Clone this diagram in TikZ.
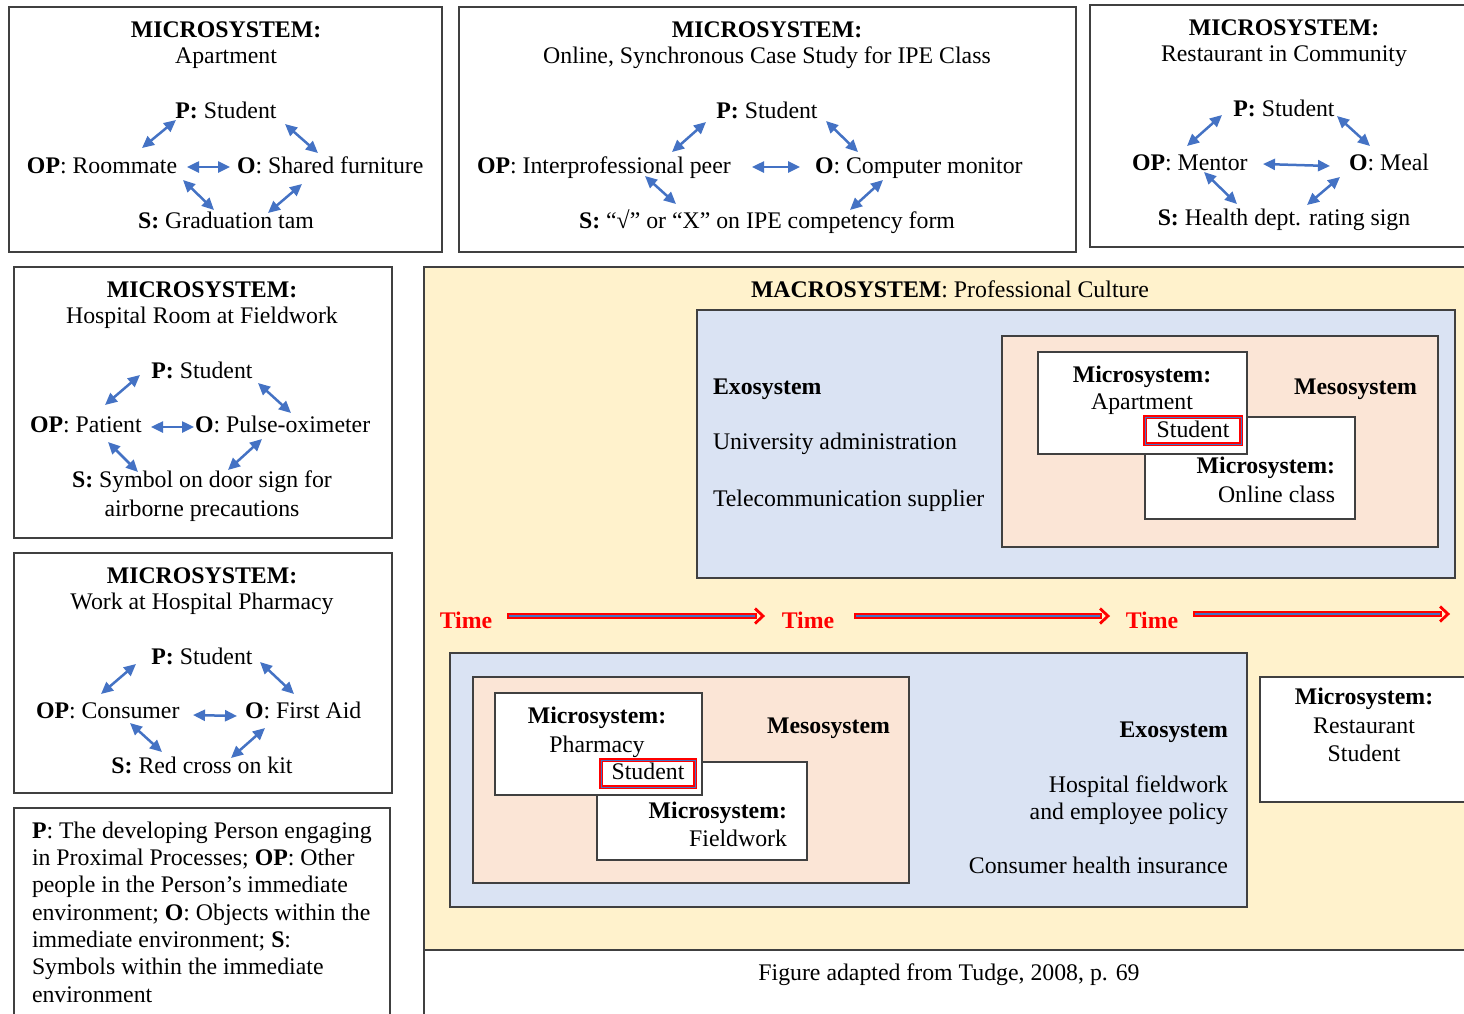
\documentclass[tikz,border=0pt]{standalone}
\usepackage{fontspec}
\setmainfont{Liberation Serif}
\usetikzlibrary{arrows.meta}
\definecolor{macroY}{HTML}{FFF2CC}
\definecolor{exoB}{HTML}{DAE3F3}
\definecolor{mesoP}{HTML}{FBE5D6}
\definecolor{arrB}{HTML}{4472C4}
\definecolor{edgeC}{HTML}{404040}
\newcommand\txc[4]{\node[anchor=base] (#1) at (#2,#3) {#4};}
\newcommand\txw[4]{\node[anchor=base west] (#1) at (#2,#3) {#4};}
\newcommand\txe[4]{\node[anchor=base east] (#1) at (#2,#3) {#4};}
\begin{document}
\begin{tikzpicture}[x=1pt,y=-1pt,
  every node/.style={font=\fontsize{23.8}{27}\selectfont, inner sep=0pt, outer sep=0pt},
  frame/.style={draw=edgeC, line width=1.3pt},
  bia/.style={draw=arrB, line width=2.5pt, >={Triangle[length=12pt,width=11pt]}, <->},
  redbox/.style={draw=red, line width=3.8pt},
  redin/.style={draw=arrB, line width=0.7pt},
  timeshaft/.style={draw=red, line width=5.5pt},
  timecore/.style={draw=arrB, line width=1.5pt},
  timehead/.style={draw=red, line width=2.8pt},
  timelbl/.style={anchor=base, text=red, font=\fontsize{23.8}{27}\selectfont\bfseries}
]
\useasboundingbox (0,0) rectangle (1464,1013);
\clip (0,0) rectangle (1464,1013);
\fill[white] (0,0) rectangle (1464,1013);

% ---------- Microsystem: Apartment ----------
\draw[frame] (9,7) rectangle (442,252);
\txc{t1}{226}{37}{\textbf{MICROSYSTEM:}}
\txc{s1}{226}{63}{Apartment}
\txc{p1}{226}{118}{\textbf{P:} Student}
\txw{op1}{27}{173}{\textbf{OP}: Roommate}
\txw{o1}{237}{173}{\textbf{O}: Shared furniture}
\txc{ss1}{226}{228}{\textbf{S:} Graduation tam}
\draw[bia] (176,120) -- (142,148);
\draw[bia] (285,124) -- (318,153);
\draw[bia] (187,167) -- (230,167);
\draw[bia] (183,180) -- (214,210);
\draw[bia] (302,184) -- (268,213);

% ---------- Microsystem: Online class ----------
\draw[frame] (459,7) rectangle (1076,252);
\txc{t2}{767}{37}{\textbf{MICROSYSTEM:}}
\txc{s2}{767}{63}{Online, Synchronous Case Study for IPE Class}
\txc{p2}{767}{118}{\textbf{P:} Student}
\txw{op2}{477}{173}{\textbf{OP}: Interprofessional peer}
\txw{o2}{815}{173}{\textbf{O}: Computer monitor}
\txc{ss2}{767}{228}{\textbf{S:} “√” or “X” on IPE competency form}
\draw[bia] (706,122) -- (672,152);
\draw[bia] (826,121) -- (858,152);
\draw[bia] (752,167) -- (800,167);
\draw[bia] (645,176) -- (676,204);
\draw[bia] (883,180) -- (850,210);

% ---------- Microsystem: Restaurant ----------
\draw[frame] (1090,5) rectangle (1480,247);
\txc{t3}{1284}{35}{\textbf{MICROSYSTEM:}}
\txc{s3}{1284}{61}{Restaurant in Community}
\txc{p3}{1284}{116}{\textbf{P:} Student}
\txw{op3}{1132}{170}{\textbf{OP}: Mentor}
\txw{o3}{1349}{170}{\textbf{O}: Meal}
\txc{ss3}{1284}{225}{\textbf{S:} Health dept. rating sign}
\draw[bia] (1222,115) -- (1187,146);
\draw[bia] (1337,116) -- (1370,146);
\draw[bia] (1263,164) -- (1330,166);
\draw[bia] (1204,172) -- (1237,204);
\draw[bia] (1340,177) -- (1307,205);

% ---------- Microsystem: Hospital room ----------
\draw[frame] (14,267) rectangle (392,538);
\txc{t4}{202}{297}{\textbf{MICROSYSTEM:}}
\txc{s4}{202}{323}{Hospital Room at Fieldwork}
\txc{p4}{202}{378}{\textbf{P:} Student}
\txw{op4}{30}{432}{\textbf{OP}: Patient}
\txw{o4}{195}{432}{\textbf{O}: Pulse-oximeter}
\txc{ss4}{202}{487}{\textbf{S:} Symbol on door sign for}
\txc{ss4b}{202}{516}{airborne precautions}
\draw[bia] (140,375) -- (105,405);
\draw[bia] (258,383) -- (291,413);
\draw[bia] (151,427) -- (194,427);
\draw[bia] (108,442) -- (138,472);
\draw[bia] (262,439) -- (228,470);

% ---------- Microsystem: Pharmacy ----------
\draw[frame] (14,553) rectangle (392,793);
\txc{t5}{202}{583}{\textbf{MICROSYSTEM:}}
\txc{s5}{202}{609}{Work at Hospital Pharmacy}
\txc{p5}{202}{664}{\textbf{P:} Student}
\txw{op5}{36}{718}{\textbf{OP}: Consumer}
\txw{o5}{245}{718}{\textbf{O}: First Aid}
\txc{ss5}{202}{773}{\textbf{S:} Red cross on kit}
\draw[bia] (136,664) -- (101,694);
\draw[bia] (260,662) -- (294,694);
\draw[bia] (193,715) -- (237,716);
\draw[bia] (130,723) -- (162,752);
\draw[bia] (265,728) -- (231,758);

% ---------- Legend ----------
\draw[frame] (14,808) rectangle (390,1030);
\txw{lg1}{32}{838}{\textbf{P}: The developing Person engaging}
\txw{lg2}{32}{865.3}{in Proximal Processes; \textbf{OP}: Other}
\txw{lg3}{32}{892.6}{people in the Person’s immediate}
\txw{lg4}{32}{920}{environment; \textbf{O}: Objects within the}
\txw{lg5}{32}{947.3}{immediate environment; \textbf{S}:}
\txw{lg6}{32}{974.6}{Symbols within the immediate}
\txw{lg7}{32}{1002}{environment}

% ---------- Macrosystem ----------
\draw[frame] (424,950) -- (424,1030);
\draw[frame, fill=macroY] (424,267) rectangle (1480,950);
\txc{mac}{950}{297}{\textbf{MACROSYSTEM}: Professional Culture}
\txc{cap}{949}{980}{Figure adapted from Tudge, 2008, p. 69}

% upper exosystem
\draw[frame, fill=exoB] (697,310) rectangle (1455,578);
\txw{ex1}{713}{394}{\textbf{Exosystem}}
\txw{ex1a}{713}{449}{University administration}
\txw{ex1b}{713}{506}{Telecommunication supplier}
\draw[frame, fill=mesoP] (1002,336) rectangle (1438,547);
\txe{me1}{1417}{394}{\textbf{Mesosystem}}
\draw[frame, fill=white] (1145,417) rectangle (1355,519);
\txe{mo1}{1335}{473}{\textbf{Microsystem:}}
\txe{mo1b}{1335}{502}{Online class}
\draw[frame, fill=white] (1038,352) rectangle (1247,454);
\txc{ma1}{1142}{382}{\textbf{Microsystem:}}
\txc{ma1b}{1142}{409}{Apartment}
\draw[redbox] (1145,417) rectangle (1241,444);
\draw[redin] (1145,417) rectangle (1241,444);
\txc{st1}{1193}{437}{Student}

% time row
\node[timelbl] (tm1) at (466,628) {Time};
\node[timelbl] (tm2) at (808,628) {Time};
\node[timelbl] (tm3) at (1152,628) {Time};
\draw[timeshaft] (507,616) -- (757,616);
\draw[timecore] (509,616) -- (755,616);
\draw[timehead] (755,608.5) -- (763,616) -- (755,623.5);
\draw[timeshaft] (854,616) -- (1102,616);
\draw[timecore] (856,616) -- (1100,616);
\draw[timehead] (1100,608.5) -- (1108,616) -- (1100,623.5);
\draw[timeshaft] (1193,614) -- (1442,614);
\draw[timecore] (1195,614) -- (1440,614);
\draw[timehead] (1440,606.5) -- (1448,614) -- (1440,621.5);

% lower exosystem
\draw[frame, fill=exoB] (450,653) rectangle (1247,907);
\txe{ex2}{1228}{737}{\textbf{Exosystem}}
\txe{ex2a}{1228}{792}{Hospital fieldwork}
\txe{ex2b}{1228}{819}{and employee policy}
\txe{ex2c}{1228}{873}{Consumer health insurance}
\draw[frame, fill=mesoP] (473,677) rectangle (909,883);
\txe{me2}{890}{733}{\textbf{Mesosystem}}
\draw[frame, fill=white] (597,762) rectangle (807,860);
\txe{mf2}{787}{818}{\textbf{Microsystem:}}
\txe{mf2b}{787}{846}{Fieldwork}
\draw[frame, fill=white] (495,693) rectangle (702,795);
\txc{mp2}{597}{723}{\textbf{Microsystem:}}
\txc{mp2b}{597}{752}{Pharmacy}
\draw[redbox] (601,760) rectangle (695,787);
\draw[redin] (601,760) rectangle (695,787);
\txc{st2}{648}{779}{Student}

% restaurant microsystem
\draw[frame, fill=white] (1260,677) rectangle (1480,802);
\txc{mr}{1364}{704}{\textbf{Microsystem:}}
\txc{mrb}{1364}{733}{Restaurant}
\txc{mrc}{1364}{761}{Student}
\end{tikzpicture}
\end{document}
